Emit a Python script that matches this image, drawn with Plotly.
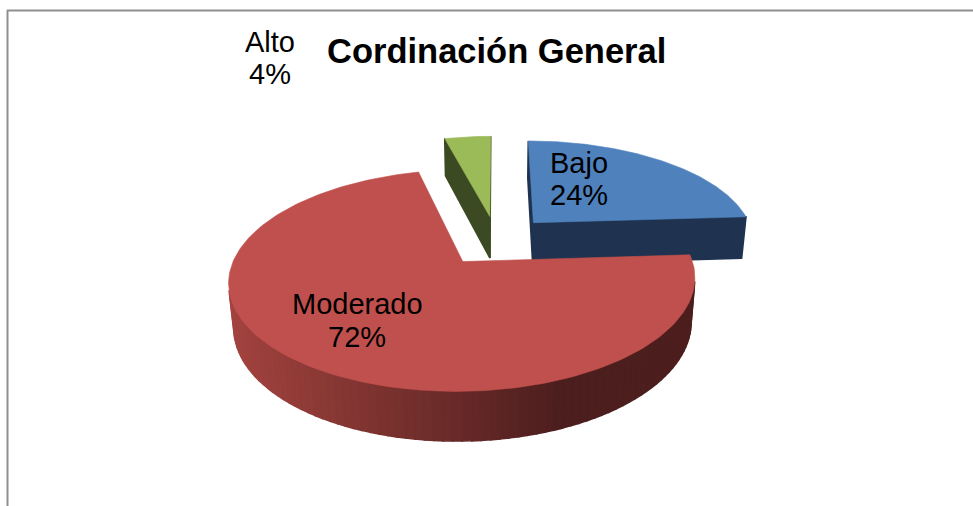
import numpy as np
import plotly.graph_objects as go

# ---------------- data ----------------
categories = ["Bajo", "Moderado", "Alto"]
values = [24, 72, 4]
title_text = "Cordinación General"

# ---------------- style ----------------
top_colors = ["#4f81bd", "#c0504d", "#9bbb59"]
cut_colors = ["#1f3350", "#4d1f1f", "#3c4a23"]
side_light = np.array([163, 67, 63])
side_dark = np.array([76, 30, 29])
label_pos = {"Bajo": (579, 163, 195), "Moderado": (357, 304, 337), "Alto": (270, 42, 74)}

W, HPX = 973, 506
CX, CY, S = 496.5, 240.5, 222.0
ELEV = np.radians(26.95)
Q = 0.185
DEPTH = 0.22
EXPLODE = 0.25
sE, cE = np.sin(ELEV), np.cos(ELEV)
CAM = np.array([0.0, -cE / Q, sE / Q])  # (x, z, h)


def project(x, z, h):
    x = np.asarray(x, float); z = np.asarray(z, float); h = np.asarray(h, float)
    up = z * sE + h * cE
    w = 1 + Q * (z * cE - h * sE)
    return CX + S * x / w, CY - S * up / w


def visible(normal_xz, point):
    n = np.array([normal_xz[0], normal_xz[1], 0.0])
    return np.dot(n, CAM - np.asarray(point)) > 0


total = float(sum(values))
fracs = [v / total for v in values]
starts = np.cumsum([0] + fracs[:-1]) * 360.0
ends = starts + np.array(fracs) * 360.0

side_polys = []  # (depth, xs, ys, color)
top_polys = []

for i, cat in enumerate(categories):
    a0, a1 = np.radians(starts[i]), np.radians(ends[i])
    mid = (a0 + a1) / 2
    ox, oz = EXPLODE * np.sin(mid), EXPLODE * np.cos(mid)

    # top face
    th = np.linspace(a0, a1, 200)
    xs = np.concatenate([[ox], ox + np.sin(th), [ox]])
    zs = np.concatenate([[oz], oz + np.cos(th), [oz]])
    px, py = project(xs, zs, np.zeros_like(xs))
    top_polys.append((oz, px, py, top_colors[i]))

    # radial cut faces
    for ang, nang in ((a0, a0 - np.pi / 2), (a1, a1 + np.pi / 2)):
        rx, rz = ox + np.sin(ang), oz + np.cos(ang)
        midp = [(ox + rx) / 2, (oz + rz) / 2, -DEPTH / 2]
        if visible((np.sin(nang), np.cos(nang)), midp):
            qx = [ox, rx, rx, ox, ox]
            qz = [oz, rz, rz, oz, oz]
            qh = [0, 0, -DEPTH, -DEPTH, 0]
            px, py = project(qx, qz, qh)
            side_polys.append(((oz + rz) / 2, px, py, cut_colors[i]))

    # outer side strips (gradient from light left to dark right)
    n = max(2, int(np.degrees(a1 - a0) / 2.0))
    edges = np.linspace(a0, a1, n + 1)
    for t0, t1 in zip(edges[:-1], edges[1:]):
        tm = (t0 + t1) / 2
        pm = [ox + np.sin(tm), oz + np.cos(tm), -DEPTH / 2]
        if not visible((np.sin(tm), np.cos(tm)), pm):
            continue
        tt = np.linspace(t0, t1, 3)
        qx = np.concatenate([ox + np.sin(tt), ox + np.sin(tt[::-1]), [ox + np.sin(t0)]])
        qz = np.concatenate([oz + np.cos(tt), oz + np.cos(tt[::-1]), [oz + np.cos(t0)]])
        qh = np.concatenate([np.zeros(3), -DEPTH * np.ones(3), [0]])
        px, py = project(qx, qz, qh)
        sx = px.mean()
        f = np.clip((sx - 232) / (560 - 232), 0, 1)
        if i == 1:
            c = side_light + (side_dark - side_light) * f
        else:
            c = np.array([int(cut_colors[i][k:k + 2], 16) for k in (1, 3, 5)], float)
        col = "rgb(%d,%d,%d)" % tuple(np.round(c).astype(int))
        side_polys.append((pm[1], px, py, col))

fig = go.Figure()
for d, px, py, col in sorted(side_polys, key=lambda t: -t[0]):
    fig.add_trace(go.Scatter(x=px, y=py, fill="toself", fillcolor=col, mode="lines",
                             line=dict(color=col, width=1.6), hoverinfo="skip", showlegend=False))
for d, px, py, col in sorted(top_polys, key=lambda t: -t[0]):
    fig.add_trace(go.Scatter(x=px, y=py, fill="toself", fillcolor=col, mode="lines",
                             line=dict(color=col, width=0.6), hoverinfo="skip", showlegend=False))

FONT = "Liberation Sans, Arial, sans-serif"
annotations = []
for cat, val in zip(categories, values):
    x, y1, y2 = label_pos[cat]
    for txt, yy in ((cat, y1), (f"{val}%", y2)):
        annotations.append(dict(x=x, y=yy, xref="x", yref="y", text=txt, showarrow=False,
                                xanchor="center", yanchor="middle",
                                font=dict(family=FONT, size=29, color="#000000")))
annotations.append(dict(x=496, y=51, xref="x", yref="y", text="<b>%s</b>" % title_text,
                        showarrow=False, xanchor="center", yanchor="middle",
                        font=dict(family=FONT, size=34.5, color="#000000")))

fig.update_layout(
    width=W, height=HPX, margin=dict(l=0, r=0, t=0, b=0),
    paper_bgcolor="white", plot_bgcolor="white",
    xaxis=dict(range=[0, W], visible=False, fixedrange=True),
    yaxis=dict(range=[HPX, 0], visible=False, fixedrange=True),
    annotations=annotations,
    shapes=[
        dict(type="line", xref="x", yref="y", x0=7, x1=W, y0=10.5, y1=10.5,
             line=dict(color="#8f8f8f", width=2)),
        dict(type="line", xref="x", yref="y", x0=7.5, x1=7.5, y0=10, y1=HPX,
             line=dict(color="#8f8f8f", width=2)),
    ],
)

fig.write_html("out.html", config={"displayModeBar": False},
               post_script="document.body.style.margin='0';document.body.style.overflow='hidden';")
